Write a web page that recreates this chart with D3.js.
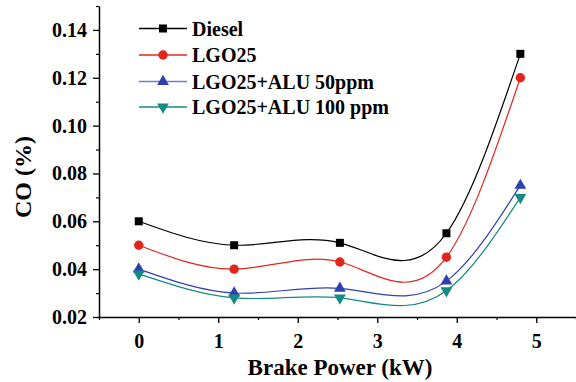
<!DOCTYPE html>
<html>
<head>
<meta charset="utf-8">
<script src="https://cdn.jsdelivr.net/npm/d3@7"></script>
<style>
  body { margin: 0; background: #fff; }
</style>
</head>
<body>
<div id="chart"></div>
<script>
// CO emission vs brake power
const power = [0, 1.2, 2.53, 3.87, 4.8];
const diesel = [0.060, 0.050, 0.051, 0.055, 0.130];
const lgo25 = [0.050, 0.040, 0.043, 0.045, 0.120];
const alu50 = [0.040, 0.030, 0.032, 0.035, 0.075];
const alu100 = [0.038, 0.028, 0.028, 0.031, 0.070];

const seriesNames = ["Diesel", "LGO25", "LGO25+ALU 50ppm", "LGO25+ALU 100 ppm"];
const xTicks = [0, 1, 2, 3, 4, 5];
const yTicks = [0.02, 0.04, 0.06, 0.08, 0.10, 0.12, 0.14];

const FONT = "'Liberation Serif', 'DejaVu Serif', 'Times New Roman', serif";

const series = [
  { name: seriesNames[0], values: diesel, color: "#000000", key: "#000000", mark: d3.symbolSquare, size: 64, rot: 0 },
  { name: seriesNames[1], values: lgo25, color: "#e3261c", key: "#e3261c", mark: d3.symbolCircle, size: 70, rot: 0 },
  { name: seriesNames[2], values: alu50, color: "#2e3fb0", key: "#6f7fcc", mark: d3.symbolTriangle, size: 60, rot: 0 },
  { name: seriesNames[3], values: alu100, color: "#138a82", key: "#138a82", mark: d3.symbolTriangle, size: 60, rot: 180 }
];

// natural cubic spline of y over x (like Origin's spline connect), drawn as exact beziers
function curveSplineX(context) {
  let xs, ys;
  return {
    areaStart() {}, areaEnd() {},
    lineStart() { xs = []; ys = []; },
    point(px, py) { xs.push(+px); ys.push(+py); },
    lineEnd() {
      const n = xs.length;
      if (!n) return;
      context.moveTo(xs[0], ys[0]);
      if (n < 3) { if (n === 2) context.lineTo(xs[1], ys[1]); return; }
      const h = [], d = [];
      for (let i = 0; i < n - 1; i++) { h[i] = xs[i + 1] - xs[i]; d[i] = (ys[i + 1] - ys[i]) / h[i]; }
      // tridiagonal solve for second derivatives M (natural ends)
      const M = new Array(n).fill(0);
      const a = [], b = [], c = [], r = [];
      for (let i = 1; i < n - 1; i++) {
        a[i] = h[i - 1]; b[i] = 2 * (h[i - 1] + h[i]); c[i] = h[i]; r[i] = 6 * (d[i] - d[i - 1]);
      }
      for (let i = 2; i < n - 1; i++) {
        const m = a[i] / b[i - 1];
        b[i] -= m * c[i - 1]; r[i] -= m * r[i - 1];
      }
      for (let i = n - 2; i >= 1; i--) {
        M[i] = (r[i] - (i < n - 2 ? c[i] * M[i + 1] : 0)) / b[i];
      }
      for (let i = 0; i < n - 1; i++) {
        const s0 = d[i] - h[i] * (2 * M[i] + M[i + 1]) / 6;
        const s1 = d[i] + h[i] * (M[i] + 2 * M[i + 1]) / 6;
        context.bezierCurveTo(
          xs[i] + h[i] / 3, ys[i] + s0 * h[i] / 3,
          xs[i + 1] - h[i] / 3, ys[i + 1] - s1 * h[i] / 3,
          xs[i + 1], ys[i + 1]);
      }
    }
  };
}

const W = 576, H = 382;
const mLeft = 99, mRight = 576, mTop = 6, mBottom = 317;

const svg = d3.select("#chart").append("svg")
  .attr("width", W).attr("height", H);

const x = d3.scaleLinear().domain([-0.5, 5.5]).range([mLeft, mRight]);
const y = d3.scaleLinear().domain([0.02, 0.15]).range([mBottom, mTop]);

// minor ticks
const xMinor = d3.range(-0.5, 5.51, 0.5).filter(v => Math.abs(v % 1) > 0.1);
const yMinor = d3.range(0.03, 0.151, 0.02);

svg.append("g")
  .attr("transform", `translate(0,${mBottom})`)
  .call(d3.axisBottom(x).tickValues(xMinor).tickSize(3).tickFormat(""))
  .call(g => g.select(".domain").remove())
  .call(g => g.selectAll("line").attr("stroke", "#000").attr("stroke-width", 1.2));

svg.append("g")
  .attr("transform", `translate(${mLeft},0)`)
  .call(d3.axisLeft(y).tickValues(yMinor).tickSize(3).tickFormat(""))
  .call(g => g.select(".domain").remove())
  .call(g => g.selectAll("line").attr("stroke", "#000").attr("stroke-width", 1.2));

// major axes
svg.append("g")
  .attr("transform", `translate(0,${mBottom})`)
  .call(d3.axisBottom(x).tickValues(xTicks).tickSize(6).tickSizeOuter(0).tickPadding(11).tickFormat(d3.format("d")))
  .call(g => g.select(".domain").attr("stroke-width", 1.5))
  .call(g => g.selectAll("line").attr("stroke-width", 1.3))
  .selectAll("text")
  .style("font-family", FONT).style("font-weight", "bold").style("font-size", "20px");

svg.append("g")
  .attr("transform", `translate(${mLeft},0)`)
  .call(d3.axisLeft(y).tickValues(yTicks).tickSize(6).tickSizeOuter(0).tickPadding(6).tickFormat(d3.format(".2f")))
  .call(g => g.select(".domain").attr("stroke-width", 1.5))
  .call(g => g.selectAll("line").attr("stroke-width", 1.3))
  .selectAll("text")
  .style("font-family", FONT).style("font-weight", "bold").style("font-size", "20px");

// curves
const line = d3.line()
  .x(d => x(d[0]))
  .y(d => y(d[1]))
  .curve(curveSplineX);

series.forEach(s => {
  const pts = power.map((p, i) => [p, s.values[i]]);
  svg.append("path")
    .datum(pts)
    .attr("fill", "none")
    .attr("stroke", s.color)
    .attr("stroke-width", 1.2)
    .attr("d", line);
  svg.selectAll(null)
    .data(pts)
    .enter().append("path")
    .attr("d", d3.symbol().type(s.mark).size(s.size))
    .attr("fill", s.color)
    .attr("transform", d => `translate(${x(d[0])},${y(d[1])}) rotate(${s.rot})`);
});

// legend
const legend = svg.append("g");
const rowY = [28.5, 55, 81.5, 107];
series.forEach((s, i) => {
  const gy = rowY[i];
  legend.append("line")
    .attr("x1", 139).attr("x2", 187)
    .attr("y1", gy).attr("y2", gy)
    .attr("stroke", s.key).attr("stroke-width", 1.5);
  legend.append("path")
    .attr("d", d3.symbol().type(s.mark).size(s.size))
    .attr("fill", s.color)
    .attr("transform", `translate(163,${gy}) rotate(${s.rot})`);
  legend.append("text")
    .attr("x", 192).attr("y", gy + 7)
    .style("font-family", FONT).style("font-weight", "bold").style("font-size", "20px")
    .text(s.name);
});

// axis titles
svg.append("text")
  .attr("x", 340).attr("y", 375)
  .attr("text-anchor", "middle")
  .style("font-family", FONT).style("font-weight", "bold").style("font-size", "23px")
  .text("Brake Power (kW)");

svg.append("text")
  .attr("transform", "translate(31,177) rotate(-90)")
  .attr("text-anchor", "middle")
  .style("font-family", FONT).style("font-weight", "bold").style("font-size", "24px")
  .text("CO (%)");
</script>
</body>
</html>
